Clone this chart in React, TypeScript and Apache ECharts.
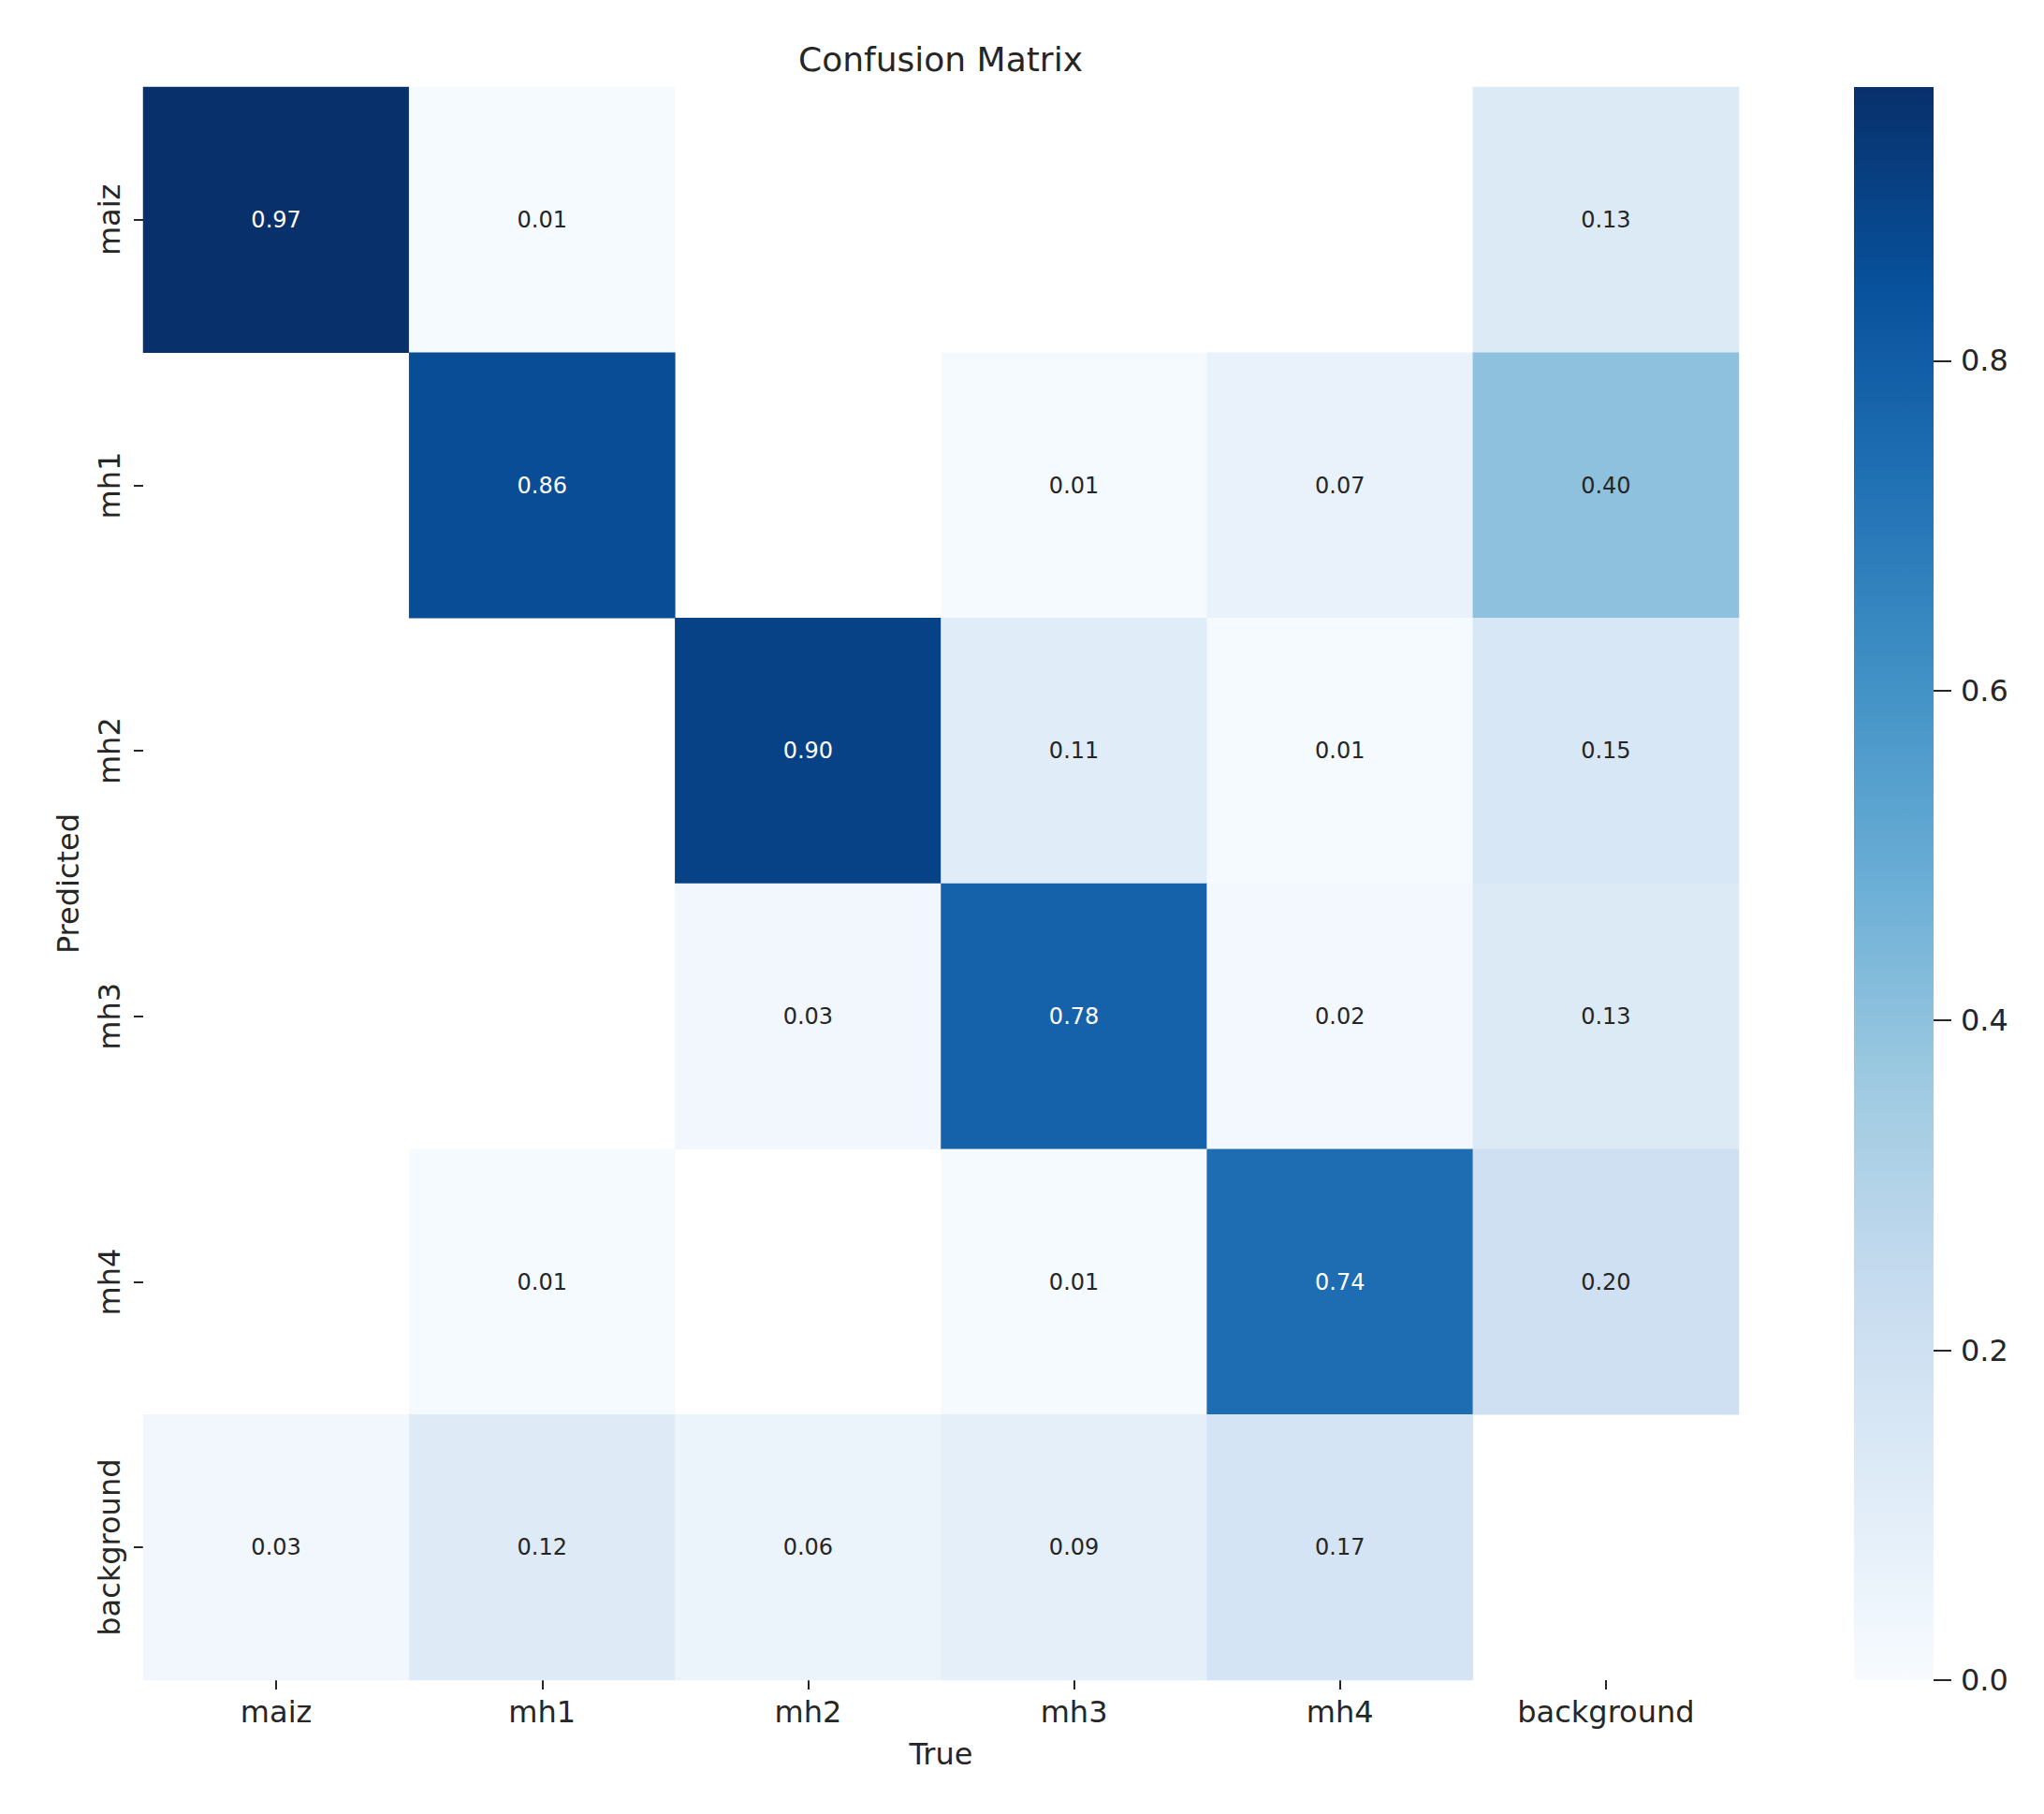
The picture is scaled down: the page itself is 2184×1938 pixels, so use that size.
import React, { useEffect, useRef } from "react";
import * as echarts from "echarts";

const categories = ["maiz", "mh1", "mh2", "mh3", "mh4", "background"];

// rows = Predicted, columns = True (null = empty cell)
const rowMaiz = [0.97, 0.01, null, null, null, 0.13];
const rowMh1 = [null, 0.86, null, 0.01, 0.07, 0.4];
const rowMh2 = [null, null, 0.9, 0.11, 0.01, 0.15];
const rowMh3 = [null, null, 0.03, 0.78, 0.02, 0.13];
const rowMh4 = [null, 0.01, null, 0.01, 0.74, 0.2];
const rowBackground = [0.03, 0.12, 0.06, 0.09, 0.17, null];
const matrixRows = [rowMaiz, rowMh1, rowMh2, rowMh3, rowMh4, rowBackground];

const colorMin = 0;
const colorMax = 0.966;
const colorbarTicks = [0, 0.2, 0.4, 0.6, 0.8];

const blues = [
  "#f7fbff",
  "#deebf7",
  "#c6dbef",
  "#9ecae1",
  "#6baed6",
  "#4292c6",
  "#2171b5",
  "#08519c",
  "#08306b",
];

const FONT = "DejaVu Sans";
const TEXT_DARK = "#262626";

export default function App() {
  const ref = useRef<HTMLDivElement>(null);

  useEffect(() => {
    document.body.style.margin = "0";
    if (!ref.current) return;
    const chart = echarts.init(ref.current, null, { renderer: "svg" });

    const heatData: any[] = [];
    matrixRows.forEach((row, yi) => {
      row.forEach((v, xi) => {
        if (v === null) return;
        heatData.push({
          value: [xi, yi, v],
          label: { color: v > 0.5 ? "#ffffff" : TEXT_DARK },
        });
      });
    });

    const gradientStops = blues.map((c, i) => ({
      offset: i / (blues.length - 1),
      color: c,
    }));

    const option: any = {
      animation: false,
      backgroundColor: "#ffffff",
      textStyle: { fontFamily: FONT },
      graphic: [
        {
          type: "text",
          x: 1005,
          y: 63,
          style: {
            text: "Confusion Matrix",
            fontSize: 36,
            fontFamily: FONT,
            fill: TEXT_DARK,
            align: "center",
            verticalAlign: "middle",
          },
        },
      ],
      grid: [
        { left: 153, top: 93, width: 1705, height: 1702, containLabel: false },
        { left: 1981, top: 93, width: 85, height: 1702, containLabel: false },
      ],
      xAxis: [
        {
          type: "category",
          gridIndex: 0,
          data: categories,
          position: "bottom",
          name: "True",
          nameLocation: "middle",
          nameGap: 63,
          nameTextStyle: { fontSize: 32, color: TEXT_DARK, fontFamily: FONT },
          axisLine: { show: false },
          axisTick: {
            show: true,
            alignWithLabel: true,
            length: 10,
            lineStyle: { color: TEXT_DARK, width: 2 },
          },
          axisLabel: {
            fontSize: 32,
            color: TEXT_DARK,
            fontFamily: FONT,
            margin: 18,
          },
          splitLine: { show: false },
          splitArea: { show: false },
        },
        {
          type: "category",
          gridIndex: 1,
          data: ["cb"],
          show: false,
        },
      ],
      yAxis: [
        {
          type: "category",
          gridIndex: 0,
          data: categories,
          inverse: true,
          name: "Predicted",
          nameLocation: "middle",
          nameGap: 64,
          nameRotate: 90,
          nameTextStyle: { fontSize: 32, color: TEXT_DARK, fontFamily: FONT },
          axisLine: { show: false },
          axisTick: {
            show: true,
            alignWithLabel: true,
            length: 10,
            lineStyle: { color: TEXT_DARK, width: 2 },
          },
          axisLabel: {
            rotate: 90,
            fontSize: 32,
            color: TEXT_DARK,
            fontFamily: FONT,
            margin: 20,
          },
          splitLine: { show: false },
          splitArea: { show: false },
        },
        {
          type: "value",
          gridIndex: 1,
          min: colorMin,
          max: colorMax,
          position: "right",
          axisLine: { show: false },
          splitLine: { show: false },
          axisTick: {
            show: true,
            length: 19,
            customValues: colorbarTicks,
            lineStyle: { color: TEXT_DARK, width: 2 },
          },
          axisLabel: {
            customValues: colorbarTicks,
            formatter: (v: number) => v.toFixed(1),
            fontSize: 32,
            color: TEXT_DARK,
            fontFamily: FONT,
            margin: 29,
          },
        },
      ],
      visualMap: {
        show: false,
        type: "continuous",
        seriesIndex: 0,
        dimension: 2,
        min: colorMin,
        max: colorMax,
        inRange: { color: blues },
      },
      series: [
        {
          type: "heatmap",
          xAxisIndex: 0,
          yAxisIndex: 0,
          data: heatData,
          label: {
            show: true,
            fontSize: 24,
            fontFamily: FONT,
            formatter: (p: any) => Number(p.value[2]).toFixed(2),
          },
          emphasis: { disabled: true },
        },
        {
          type: "bar",
          xAxisIndex: 1,
          yAxisIndex: 1,
          data: [colorMax],
          barWidth: "100%",
          barCategoryGap: 0,
          silent: true,
          itemStyle: {
            color: new echarts.graphic.LinearGradient(0, 1, 0, 0, gradientStops),
          },
        },
      ],
    };

    chart.setOption(option);
    return () => chart.dispose();
  }, []);

  return <div ref={ref} style={{ width: 2184, height: 1938 }} />;
}
